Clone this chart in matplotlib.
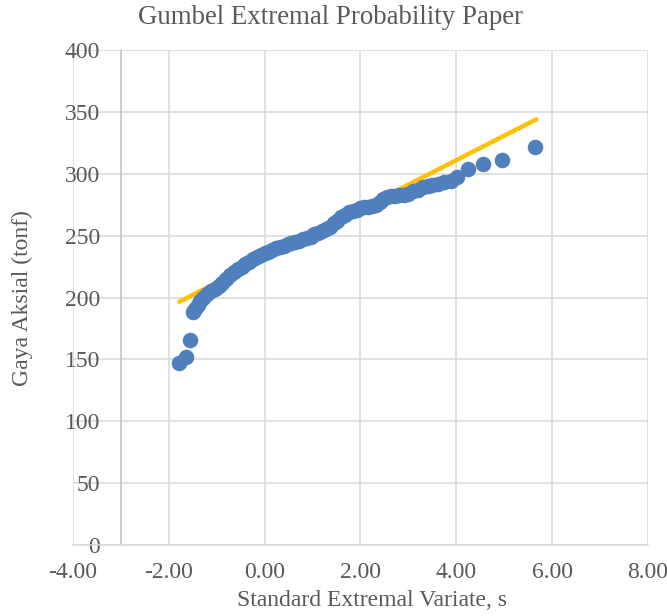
import numpy as np
import matplotlib

matplotlib.use("Agg")
import matplotlib.pyplot as plt

# ----------------------------------------------------------------------
# data
# ----------------------------------------------------------------------
s_obs = [-1.78, -1.64, -1.55, -1.50, -1.45, -1.40, -1.35, -1.28, -1.20,
         -1.12, -1.04, -0.96, -0.88, -0.80, -0.72, -0.64, -0.56, -0.48,
         -0.40, -0.32, -0.24, -0.16, -0.08, 0.00, 0.08, 0.16, 0.24, 0.32,
         0.40, 0.48, 0.56, 0.64, 0.72, 0.80, 0.88, 0.96, 1.04, 1.12, 1.20,
         1.28, 1.36, 1.44, 1.52, 1.60, 1.68, 1.76, 1.84, 1.92, 2.00, 2.08,
         2.16, 2.24, 2.32, 2.40, 2.48, 2.56, 2.64, 2.72, 2.80, 2.90, 3.00,
         3.10, 3.20, 3.30, 3.40, 3.50, 3.62, 3.75, 3.88, 4.01, 4.25, 4.55,
         4.95, 5.65]
gaya_obs = [147, 152, 166, 188, 191, 194, 197, 200, 203,
            205, 207, 209, 212, 215, 218, 221, 223, 225,
            227, 229, 231, 233, 234, 236, 237, 238, 240, 241,
            242, 243, 244, 245, 246, 247, 248, 249, 251, 252, 254,
            255, 257, 260, 262, 265, 267, 269, 270, 271, 272, 273,
            273, 274, 275, 277, 280, 281, 282, 282, 283, 283, 284,
            286, 287, 289, 290, 291, 292, 293, 294, 297, 304, 308,
            311, 322]

# fitted Gumbel line (end points)
s_fit = [-1.78, 5.67]
gaya_fit = [196.6, 344.0]

x_ticks = [-4, -2, 0, 2, 4, 6, 8]
y_ticks = [0, 50, 100, 150, 200, 250, 300, 350, 400]

# ----------------------------------------------------------------------
# plotting
# ----------------------------------------------------------------------
plt.rcParams["font.family"] = ["Liberation Serif", "DejaVu Serif"]
txt = "#595959"
grid = "#D9D9D9"

fig = plt.figure(figsize=(6.67, 6.16), dpi=100)
ax = fig.add_axes([73 / 667, 1 - 545 / 616, 575 / 667, 495 / 616])

ax.plot(s_fit, gaya_fit, color="#FFC000", lw=3.2, solid_capstyle="round",
        zorder=3)
ax.scatter(s_obs, gaya_obs, s=125, color="#4F7FBC", lw=0, zorder=4)

ax.set_xlim(-4, 8)
ax.set_ylim(0, 400)
ax.set_xticks(x_ticks)
ax.set_xticklabels([f"{v:.2f}" for v in x_ticks])
ax.set_yticks(y_ticks)
ax.grid(True, color=grid, lw=1.1, zorder=0)
ax.set_axisbelow(True)

for side in ("top", "right"):
    ax.spines[side].set_visible(False)
ax.spines["bottom"].set_color(grid)
ax.spines["bottom"].set_linewidth(1.1)
ax.spines["left"].set_position(("data", -3))
ax.spines["left"].set_color("#BFBFBF")
ax.spines["left"].set_linewidth(1.1)

ax.tick_params(axis="y", length=0, pad=15, labelsize=17, labelcolor=txt)
ax.tick_params(axis="x", length=0, pad=12, labelsize=17, labelcolor=txt)

fig.text(330 / 667, 1 - 17 / 616, "Gumbel Extremal Probability Paper",
         ha="center", va="center", fontsize=19.4, color=txt)
fig.text(372 / 667, 1 - 601 / 616, "Standard Extremal Variate, s",
         ha="center", va="center", fontsize=17, color=txt)
fig.text(22 / 667, 1 - 298 / 616, "Gaya Aksial (tonf)", rotation=90,
         ha="center", va="center", fontsize=17, color=txt)

fig.savefig("out.png", dpi=100)
